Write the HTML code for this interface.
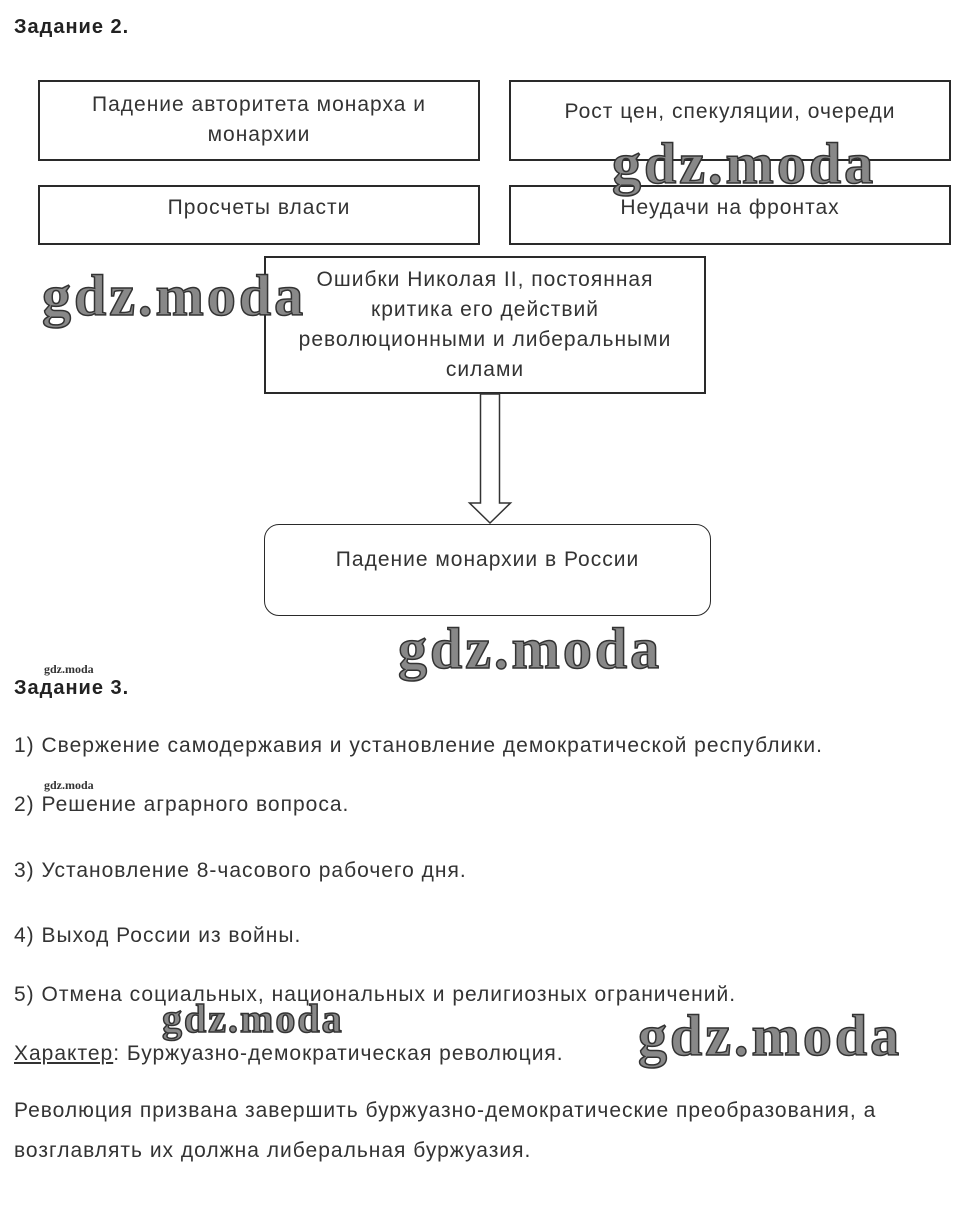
<!DOCTYPE html>
<html><head><meta charset="utf-8"><style>
body{margin:0;width:957px;height:1215px;background:#fff;position:relative;overflow:hidden;font-family:"Liberation Sans",sans-serif;color:#333}
.a{position:absolute;white-space:nowrap}
.box{position:absolute;border:2px solid #2a2a2a;box-sizing:border-box;text-align:center;font-size:21px;letter-spacing:1px;color:#333;line-height:30px}
.h{font-weight:bold;font-size:20px;letter-spacing:1px;color:#222}
.t{font-size:21px;letter-spacing:1px}
.wm{position:absolute;font-family:"Liberation Serif",serif;font-weight:bold;color:#888;-webkit-text-stroke:1.5px #333;white-space:nowrap;letter-spacing:3px}
</style></head><body>
<div class="a h" style="left:14px;top:16px">Задание 2.</div>
<div class="box" style="left:38px;top:80px;width:442px;height:81px;padding-top:8px">Падение авторитета монарха и<br>монархии</div>
<div class="box" style="left:509px;top:80px;width:442px;height:81px;padding-top:15px">Рост цен, спекуляции, очереди</div>
<div class="box" style="left:38px;top:185px;width:442px;height:60px;padding-top:6px">Просчеты власти</div>
<div class="box" style="left:509px;top:185px;width:442px;height:60px;padding-top:6px">Неудачи на фронтах</div>
<div class="box" style="left:264px;top:256px;width:442px;height:138px;padding-top:7px;background:#fff">Ошибки Николая II, постоянная<br>критика его действий<br>революционными и либеральными<br>силами</div>
<svg style="position:absolute;left:0;top:0" width="957" height="1215">
<polygon points="480.5,394 499.5,394 499.5,503 510.5,503 490,523 469.5,503 480.5,503" fill="#fff" stroke="#333" stroke-width="1.5"/>
</svg>
<div class="box" style="left:264px;top:524px;width:447px;height:92px;border-radius:15px;border-width:1.5px;padding-top:20px">Падение монархии в России</div>
<div class="wm" style="left:612px;top:130px;font-size:58px">gdz.moda</div>
<div class="wm" style="left:42px;top:262px;font-size:58px">gdz.moda</div>
<div class="wm" style="left:398px;top:615px;font-size:58px">gdz.moda</div>
<div class="wm" style="left:638px;top:1002px;font-size:58px">gdz.moda</div>
<div class="wm" style="left:162px;top:995px;font-size:40px;letter-spacing:2px">gdz.moda</div>
<div class="wm" style="left:44px;top:662px;font-size:12px;-webkit-text-stroke:0;color:#333;letter-spacing:0">gdz.moda</div>
<div class="wm" style="left:44px;top:778px;font-size:12px;-webkit-text-stroke:0;color:#333;letter-spacing:0">gdz.moda</div>
<div class="a h" style="left:14px;top:677px">Задание 3.</div>
<div class="a t" style="left:14px;top:734px">1) Свержение самодержавия и установление демократической республики.</div>
<div class="a t" style="left:14px;top:793px">2) Решение аграрного вопроса.</div>
<div class="a t" style="left:14px;top:859px">3) Установление 8-часового рабочего дня.</div>
<div class="a t" style="left:14px;top:924px">4) Выход России из войны.</div>
<div class="a t" style="left:14px;top:983px">5) Отмена социальных, национальных и религиозных ограничений.</div>
<div class="a t" style="left:14px;top:1042px"><u>Характер</u>: Буржуазно-демократическая революция.</div>
<div class="a t" style="left:14px;top:1099px">Революция призвана завершить буржуазно-демократические преобразования, а</div>
<div class="a t" style="left:14px;top:1139px">возглавлять их должна либеральная буржуазия.</div>
</body></html>
